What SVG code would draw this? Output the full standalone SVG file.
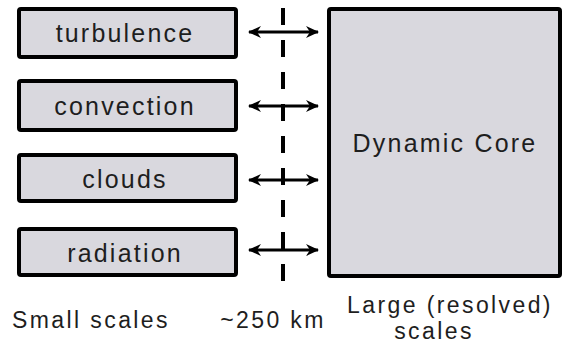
<svg xmlns="http://www.w3.org/2000/svg" width="563" height="350" viewBox="0 0 563 350">
  <style>
    .box { fill: #d9d8de; stroke: #000; stroke-width: 4; }
    .lbl { font-family: "Liberation Sans", Arial, sans-serif; font-size: 25px; letter-spacing: 2.2px; fill: #1e1e1e; text-anchor: middle; }
    .cap { font-family: "Liberation Sans", Arial, sans-serif; font-size: 23px; letter-spacing: 2.4px; fill: #1e1e1e; text-anchor: middle; }
    .conn { stroke: #000; stroke-width: 3; fill: none; marker-start: url(#head); marker-end: url(#head); }
    .cut { stroke: #000; stroke-width: 4; stroke-dasharray: 17 15; fill: none; }
  </style>
  <defs>
    <marker id="head" viewBox="0 0 14 14" refX="12" refY="7" markerWidth="14" markerHeight="14" markerUnits="userSpaceOnUse" orient="auto-start-reverse">
      <path d="M0,1 L13,7 L0,13 L4,7 Z" fill="#000"/>
    </marker>
  </defs>

  <rect width="563" height="350" fill="#fff"/>

  <!-- physics processes (sub-grid) -->
  <g id="turbulence">
    <rect class="box" x="19" y="9" width="217" height="48" rx="2"/>
    <text class="lbl" x="125" y="42">turbulence</text>
  </g>
  <g id="convection">
    <rect class="box" x="19" y="81" width="217" height="49" rx="2"/>
    <text class="lbl" x="125" y="115">convection</text>
  </g>
  <g id="clouds">
    <rect class="box" x="19" y="155" width="217" height="46" rx="2"/>
    <text class="lbl" x="125" y="188">clouds</text>
  </g>
  <g id="radiation">
    <rect class="box" x="19" y="229" width="217" height="46" rx="2"/>
    <text class="lbl" x="125" y="262">radiation</text>
  </g>

  <!-- resolved dynamics -->
  <g id="dynamic-core">
    <rect class="box" x="329" y="9" width="231" height="267" rx="2"/>
    <text class="lbl" x="445" y="152">Dynamic Core</text>
  </g>

  <!-- scale separation and coupling -->
  <g id="connectors">
    <line class="cut" x1="283" y1="8" x2="283" y2="282"/>
    <line class="conn" x1="249" y1="32" x2="318" y2="32"/>
    <line class="conn" x1="249" y1="106" x2="318" y2="106"/>
    <line class="conn" x1="249" y1="180" x2="318" y2="180"/>
    <line class="conn" x1="249" y1="250" x2="318" y2="250"/>
  </g>

  <!-- scale labels -->
  <g id="labels">
    <text class="cap" x="91" y="328">Small scales</text>
    <text class="cap" x="273" y="328">~250 km</text>
    <text class="cap" x="450" y="313">Large (resolved)</text>
    <text class="cap" x="434" y="339">scales</text>
  </g>
</svg>
